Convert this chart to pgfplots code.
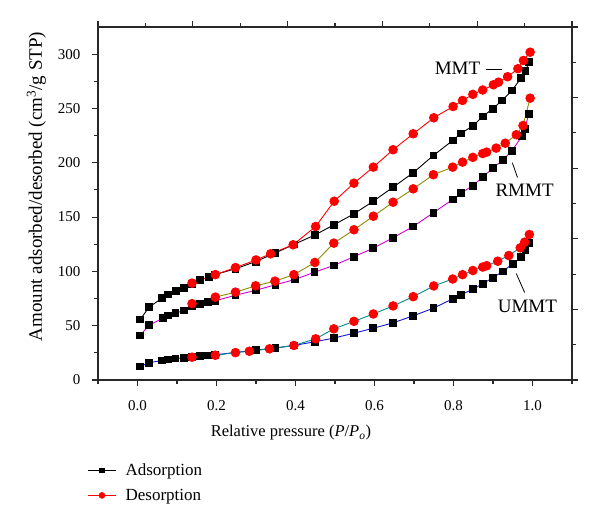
\documentclass[border=0pt]{standalone}
\usepackage{pgfplots}
\pgfplotsset{compat=1.18}
\usepackage{fontspec}
\setmainfont{Liberation Serif}
\definecolor{umads}{RGB}{20,20,210}
\definecolor{umdes}{RGB}{0,140,140}
\definecolor{rmads}{RGB}{210,0,210}
\definecolor{rmdes}{RGB}{140,140,0}
\definecolor{axc}{RGB}{40,40,40}
\begin{document}
\begin{tikzpicture}
\path (0,0) rectangle (600pt,528pt);
\begin{axis}[
  at={(98pt,148pt)}, anchor=south west,
  scale only axis, width=474pt, height=353pt,
  xmin=-0.1, xmax=1.1, ymin=0, ymax=325,
  xtick={0,0.2,0.4,0.6,0.8,1.0},
  minor xtick={-0.1,0.1,0.3,0.5,0.7,0.9,1.1},
  ytick={0,50,100,150,200,250,300},
  minor ytick={25,75,125,175,225,275},
  xtick pos=bottom, ytick pos=left,
  tick align=outside,
  major tick length=6pt, minor tick length=3.5pt,
  axis line style={line width=1.3pt, color=axc},
  every tick/.style={line width=1.1pt, color=axc},
  /pgf/number format/assume math mode=true,
  xticklabel style={font=\fontsize{15}{18}\selectfont, yshift=-11pt, /pgf/number format/.cd, fixed, fixed zerofill, precision=1},
  yticklabel style={font=\fontsize{15}{18}\selectfont, xshift=-8pt},
  xlabel={Relative pressure (\textit{P}/\textit{P}\textsubscript{\textit{o}})},
  ylabel={Amount adsorbed/desorbed (cm\textsuperscript{3}/g STP)},
  xlabel style={at={(axis description cs:0.407,-0.15)}, anchor=center, font=\fontsize{16.5}{20}\selectfont},
  ylabel style={at={(axis description cs:-0.13,0.548)}, anchor=center, font=\fontsize{19}{20}\selectfont},
  legend style={at={(axis description cs:-0.023,-0.231)}, anchor=north west, draw=none, fill=none,
    font=\fontsize{17}{20}\selectfont, row sep=8pt, inner xsep=0pt, inner ysep=0pt},
  legend cell align=left,
  legend image code/.code={\draw[mark repeat=2,mark phase=2,#1] plot coordinates {(0pt,0pt) (14pt,0pt) (28pt,0pt)};},
]
\addlegendimage{black, line width=1.3pt, mark=square*, mark size=2.3pt, mark options={fill=black, draw=black, line width=0.5pt}}
\addlegendentry{\hspace{7pt}Adsorption}
\addlegendimage{red, line width=1.3pt, mark=*, mark size=3pt, mark options={fill=red, draw=red, line width=0.5pt}}
\addlegendentry{\hspace{7pt}Desorption}

% UMMT adsorption
\addplot[umads, line width=0.9pt, mark=square*, mark size=3.4pt, mark options={fill=black, draw=black}, forget plot] coordinates {
(0.007,12.4) (0.028,15.8) (0.062,18.0) (0.077,18.9) (0.096,19.8) (0.117,20.4) (0.138,21.3) (0.159,22.0) (0.179,22.6) (0.197,23.2)
(0.248,25.4) (0.299,27.5) (0.349,29.5) (0.396,31.8) (0.449,35.2) (0.497,38.6) (0.548,43.1) (0.597,47.7) (0.647,52.6) (0.698,59.1)
(0.749,66.1) (0.798,74.7) (0.819,78.4) (0.849,83.6) (0.874,88.6) (0.899,94.1) (0.925,100.0) (0.950,107.0) (0.971,113.0) (0.982,119.2) (0.991,126.0)};
% RMMT adsorption
\addplot[rmads, line width=0.9pt, mark=square*, mark size=3.4pt, mark options={fill=black, draw=black}, forget plot] coordinates {
(0.007,41.0) (0.029,50.5) (0.065,57.0) (0.077,59.5) (0.096,61.6) (0.117,64.0) (0.138,67.7) (0.159,70.0) (0.179,71.6) (0.197,73.0)
(0.248,78.0) (0.299,82.6) (0.349,87.6) (0.398,92.5) (0.448,99.2) (0.497,105.5) (0.548,113.5) (0.597,121.4) (0.647,131.0) (0.698,141.3)
(0.749,154.0) (0.798,166.2) (0.819,172.0) (0.849,179.0) (0.874,186.7) (0.899,195.0) (0.925,202.5) (0.948,211.0) (0.973,224.5) (0.980,231.3) (0.991,245.1)};
% MMT adsorption
\addplot[black, line width=0.9pt, mark=square*, mark size=3.4pt, mark options={fill=black, draw=black}, forget plot] coordinates {
(0.007,55.7) (0.029,67.0) (0.062,75.3) (0.077,78.7) (0.097,81.8) (0.117,84.9) (0.138,88.5) (0.159,92.3) (0.180,94.7) (0.197,97.1)
(0.248,102.4) (0.299,109.0) (0.349,117.0) (0.396,124.8) (0.449,133.5) (0.498,143.0) (0.548,153.0) (0.597,164.6) (0.647,177.5) (0.698,190.8)
(0.749,206.7) (0.798,220.5) (0.819,227.0) (0.849,234.0) (0.874,242.6) (0.899,249.7) (0.923,257.4) (0.948,266.6) (0.971,277.9) (0.982,284.3) (0.991,292.6)};
% UMMT desorption
\addplot[umdes, line width=0.9pt, mark=*, mark size=4.3pt, mark options={fill=red, draw=red}, forget plot] coordinates {
(0.138,21.0) (0.197,22.8) (0.248,25.2) (0.283,26.5) (0.334,28.7) (0.396,31.8) (0.451,37.9) (0.497,47.1) (0.548,54.0) (0.597,60.8)
(0.647,68.2) (0.698,76.7) (0.750,86.6) (0.798,93.0) (0.823,97.0) (0.849,100.8) (0.874,104.0) (0.884,105.2) (0.912,109.4) (0.940,114.6)
(0.969,121.7) (0.980,126.9) (0.992,134.0)};
% RMMT desorption
\addplot[rmdes, line width=0.9pt, mark=*, mark size=4.3pt, mark options={fill=red, draw=red}, forget plot] coordinates {
(0.138,70.3) (0.197,76.3) (0.248,80.9) (0.299,86.7) (0.348,91.0) (0.396,97.0) (0.449,108.2) (0.497,126.0) (0.548,138.3) (0.597,150.8)
(0.647,163.7) (0.698,176.0) (0.749,189.0) (0.798,196.0) (0.823,200.6) (0.849,205.0) (0.874,208.5) (0.884,209.8) (0.908,213.5) (0.931,218.0)
(0.959,225.8) (0.976,234.3) (0.994,259.5)};
% MMT desorption
\addplot[red, line width=0.9pt, mark=*, mark size=4.3pt, mark options={fill=red, draw=red}, forget plot] coordinates {
(0.138,89.2) (0.197,97.0) (0.248,103.5) (0.300,110.5) (0.337,116.2) (0.394,124.5) (0.451,141.3) (0.498,164.6) (0.548,181.2) (0.597,196.0)
(0.647,212.0) (0.698,226.7) (0.750,241.4) (0.799,251.8) (0.823,257.4) (0.849,263.0) (0.874,267.0) (0.901,271.8) (0.914,274.2) (0.937,279.2)
(0.963,286.6) (0.977,294.2) (0.994,301.8)};

\node[font=\fontsize{19}{20}\selectfont, anchor=center] at (axis cs:0.81,287) {MMT};
\draw[black, line width=0.8pt] (axis cs:0.883,286) -- (axis cs:0.924,286);
\node[font=\fontsize{19}{20}\selectfont, anchor=center] at (axis cs:0.98,174.5) {RMMT};
\draw[black, line width=0.8pt] (axis cs:0.949,200) -- (axis cs:0.962,186.5);
\node[font=\fontsize{19}{20}\selectfont, anchor=center] at (axis cs:0.987,67.7) {UMMT};
\draw[black, line width=0.8pt] (axis cs:0.959,98) -- (axis cs:0.98,80.6);
\end{axis}
\begin{axis}[
  at={(98pt,148pt)}, anchor=south west,
  scale only axis, width=474pt, height=353pt,
  xmin=-0.1, xmax=1.1, ymin=0, ymax=325,
  axis x line*=top, axis y line*=right,
  xtick={-0.1,0.14,0.38,0.62,0.86,1.1},
  minor xtick={0.02,0.26,0.5,0.74,0.98},
  ytick={0,65,130,195,260,325},
  minor ytick={32.5,97.5,162.5,227.5,292.5},
  xticklabels={}, yticklabels={},
  tick align=outside,
  major tick length=6pt, minor tick length=3.5pt,
  axis line style={line width=1.3pt, color=axc, -},
  every tick/.style={line width=1.1pt, color=axc},
]
\addplot[draw=none, forget plot] coordinates {(0,0)};
\end{axis}
\end{tikzpicture}
\end{document}
